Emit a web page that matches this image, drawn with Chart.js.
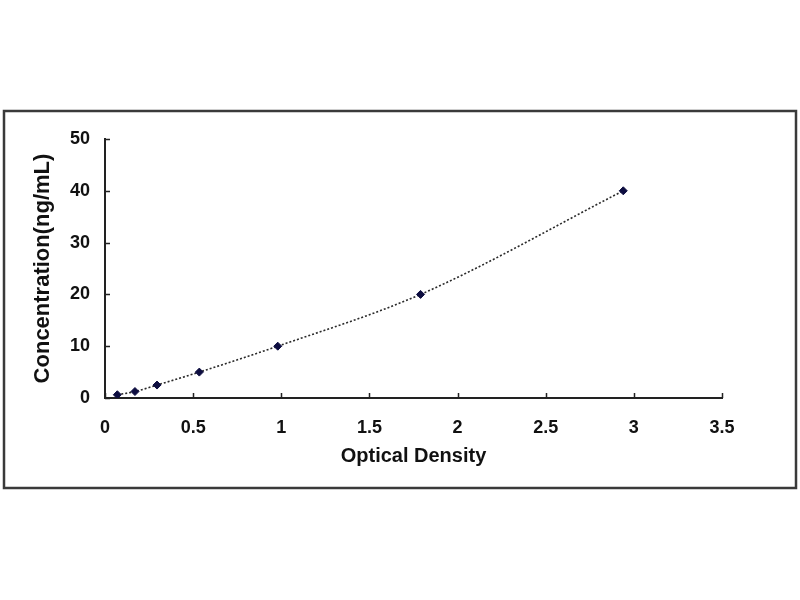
<!DOCTYPE html>
<html>
<head>
<meta charset="utf-8">
<script src="https://cdn.jsdelivr.net/npm/chart.js@4"></script>
<style>
html,body{margin:0;padding:0;background:#fff;}
#wrap{width:800px;height:600px;position:relative;}
</style>
</head>
<body>
<div id="wrap"><canvas id="c" width="800" height="600"></canvas></div>
<script>
// Data
const opticalDensity = [0.07, 0.17, 0.295, 0.535, 0.98, 1.79, 2.94];
const concentration = [0.625, 1.25, 2.5, 5, 10, 20, 40];
const xTicks = [0, 0.5, 1, 1.5, 2, 2.5, 3, 3.5];
const yTicks = [0, 10, 20, 30, 40, 50];
const xTitle = 'Optical Density';
const yTitle = 'Concentration(ng/mL)';

const points = opticalDensity.map((x, i) => ({x: x, y: concentration[i]}));

const frameAndTicks = {
  id: 'frameAndTicks',
  beforeDraw(chart) {
    const ctx = chart.ctx;
    ctx.save();
    ctx.fillStyle = '#ffffff';
    ctx.fillRect(0, 0, chart.width, chart.height);
    ctx.strokeStyle = '#3a3a3a';
    ctx.lineWidth = 2.5;
    ctx.strokeRect(4, 111, 792, 377);
    ctx.restore();
  },
  afterDatasetsDraw(chart) {
    const ctx = chart.ctx;
    const xs = chart.scales.x, ys = chart.scales.y;
    ctx.save();
    ctx.strokeStyle = '#222';
    ctx.lineWidth = 1.5;
    ctx.beginPath();
    xTicks.forEach(v => {
      const px = Math.round(xs.getPixelForValue(v)) + 0.5;
      ctx.moveTo(px, ys.bottom);
      ctx.lineTo(px, ys.bottom - 5);
    });
    yTicks.forEach(v => {
      const py = Math.round(ys.getPixelForValue(v)) + 0.5;
      ctx.moveTo(xs.left, py);
      ctx.lineTo(xs.left + 5, py);
    });
    ctx.stroke();
    ctx.restore();
  }
};

const FONT = '"Liberation Sans", Arial, sans-serif';

new Chart(document.getElementById('c'), {
  type: 'scatter',
  data: {
    datasets: [{
      data: points,
      showLine: true,
      borderColor: '#2a2a2a',
      borderWidth: 1.6,
      borderDash: [2, 2],
      cubicInterpolationMode: 'monotone',
      pointStyle: 'rectRot',
      pointRadius: 4,
      pointBackgroundColor: '#0d0d40',
      pointBorderColor: '#0d0d40',
      pointBorderWidth: 1,
      fill: false
    }]
  },
  options: {
    responsive: false,
    animation: false,
    devicePixelRatio: 1,
    layout: { padding: { left: 30, top: 139, right: 78, bottom: 132 } },
    plugins: { legend: { display: false }, tooltip: { enabled: false } },
    scales: {
      x: {
        type: 'linear',
        min: 0, max: 3.5,
        afterBuildTicks: (s) => { s.ticks = xTicks.map(v => ({value: v})); },
        afterFit: (s) => { s.height = 70; },
        ticks: {
          padding: 19,
          color: '#111',
          font: { family: FONT, weight: 'bold', size: 18 },
          maxRotation: 0,
          callback: (v) => String(v)
        },
        grid: { drawOnChartArea: false, drawTicks: false },
        border: { display: true, color: '#222', width: 2 },
        title: {
          display: true,
          text: xTitle,
          color: '#111',
          font: { family: FONT, weight: 'bold', size: 20 },
          padding: { top: 0, bottom: 0 }
        }
      },
      y: {
        type: 'linear',
        min: 0, max: 50,
        afterBuildTicks: (s) => { s.ticks = yTicks.map(v => ({value: v})); },
        afterFit: (s) => { s.width = 75; },
        ticks: {
          padding: 15,
          color: '#111',
          font: { family: FONT, weight: 'bold', size: 18 }
        },
        grid: { drawOnChartArea: false, drawTicks: false },
        border: { display: true, color: '#222', width: 2 },
        title: {
          display: true,
          text: yTitle,
          color: '#111',
          font: { family: FONT, weight: 'bold', size: 22 },
          padding: { top: 0, bottom: 0 }
        }
      }
    }
  },
  plugins: [frameAndTicks]
});
</script>
</body>
</html>
